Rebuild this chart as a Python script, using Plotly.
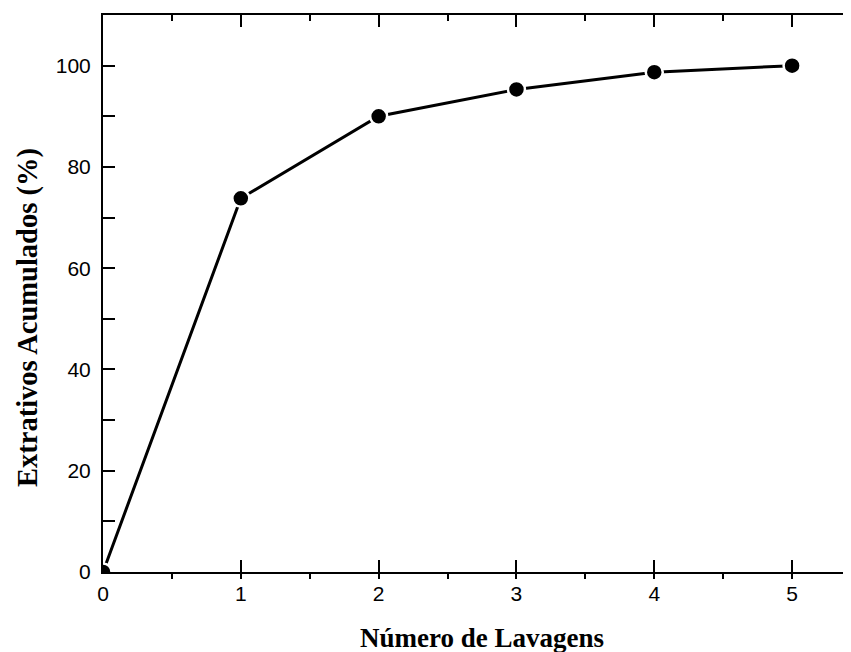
import plotly.graph_objects as go

lavagens = [0, 1, 2, 3, 4, 5]
extrativos = [0, 73.8, 90.0, 95.3, 98.7, 100.0]
x_ticks = [0, 1, 2, 3, 4, 5]
y_ticks = [0, 20, 40, 60, 80, 100]

tick_font = dict(family="Arial, Liberation Sans, sans-serif", size=21, color="black")
xtitle_font = dict(family="Times New Roman, Liberation Serif, serif", size=27, color="black")
ytitle_font = dict(family="Times New Roman, Liberation Serif, serif", size=28.5, color="black")

fig = go.Figure()
fig.add_trace(go.Scatter(
    x=lavagens, y=extrativos, mode="lines+markers",
    line=dict(color="black", width=3),
    marker=dict(size=17, color="black", line=dict(color="white", width=2.5)),
    showlegend=False, cliponaxis=True,
))
# helper trace so the top axis is drawn
fig.add_trace(go.Scatter(
    x=lavagens, y=extrativos, xaxis="x2", mode="markers",
    marker=dict(opacity=0), showlegend=False, hoverinfo="skip",
))

fig.update_layout(
    width=863, height=652,
    margin=dict(l=95, r=10, t=7, b=88),
    paper_bgcolor="white", plot_bgcolor="white",
    xaxis=dict(
        range=[0, 5.5], tickvals=x_ticks, ticktext=[str(v) for v in x_ticks],
        automargin=False,
        showgrid=False, zeroline=False, showline=True, linecolor="black", linewidth=2,
        ticks="inside", ticklen=12, tickwidth=2, tickcolor="black",
        minor=dict(dtick=0.5, ticks="outside", ticklen=5, tickwidth=2, tickcolor="black", showgrid=False),
        tickfont=tick_font, ticklabelstandoff=2,
    ),
    xaxis2=dict(
        range=[0, 5.5], overlaying="x", side="top", showticklabels=False,
        tickvals=x_ticks, automargin=False,
        showgrid=False, zeroline=False, showline=True, linecolor="black", linewidth=2,
        ticks="inside", ticklen=12, tickwidth=2, tickcolor="black",
        minor=dict(dtick=0.5, ticks="inside", ticklen=6, tickwidth=2, tickcolor="black", showgrid=False),
    ),
    yaxis=dict(
        range=[0, 110], tickvals=y_ticks, ticktext=[str(v) for v in y_ticks],
        automargin=False, mirror="allticks",
        showgrid=False, zeroline=False, showline=True, linecolor="black", linewidth=2,
        ticks="inside", ticklen=12, tickwidth=2, tickcolor="black",
        minor=dict(dtick=10, ticks="inside", ticklen=7, tickwidth=2, tickcolor="black", showgrid=False),
        tickfont=tick_font, ticklabelstandoff=6,
    ),
    annotations=[
        dict(text="<b>Número de Lavagens</b>", font=xtitle_font, showarrow=False,
             xref="paper", yref="paper", x=0.5, y=0, xanchor="center", yanchor="middle",
             yshift=-66),
        dict(text="<b>Extrativos Acumulados (%)</b>", font=ytitle_font, showarrow=False,
             textangle=-90, xref="paper", yref="paper", x=0, y=0.457,
             xanchor="center", yanchor="middle", xshift=-74.5),
    ],
)

fig.write_html("out.html")
